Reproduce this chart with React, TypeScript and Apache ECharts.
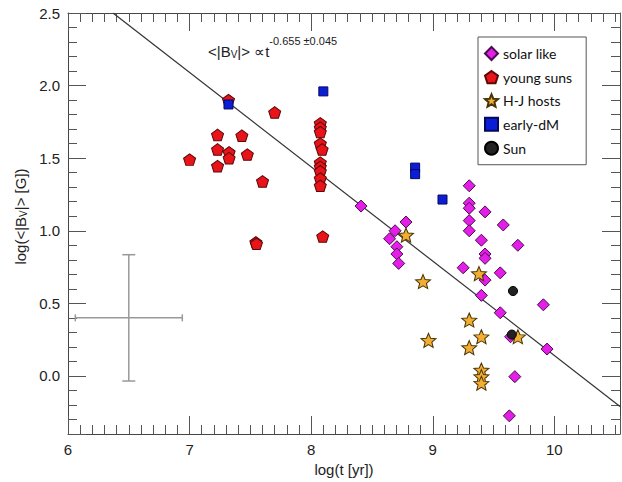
import React, { useEffect, useRef } from "react";
import * as echarts from "echarts";

// ---- data ----
const solarLikeX = [8.41, 8.78, 8.69, 8.645, 8.705, 8.705, 8.72, 9.30, 9.30, 9.30, 9.43, 9.30, 9.58, 9.30, 9.40, 9.70, 9.43, 9.43, 9.25, 9.555, 9.43, 9.40, 9.91, 9.555, 9.64, 9.94, 9.675, 9.63];
const solarLikeY = [1.17, 1.06, 1.00, 0.945, 0.89, 0.84, 0.775, 1.31, 1.19, 1.155, 1.13, 1.07, 1.04, 1.00, 0.935, 0.90, 0.84, 0.81, 0.745, 0.71, 0.66, 0.555, 0.49, 0.435, 0.27, 0.185, -0.005, -0.275];

const youngSunsX = [7.32, 7.70, 7.23, 7.43, 7.00, 7.23, 7.325, 7.325, 7.475, 7.23, 7.60, 7.545, 7.55, 8.075, 8.075, 8.075, 8.075, 8.09, 8.075, 8.075, 8.075, 8.075, 8.075, 8.095];
const youngSunsY = [1.90, 1.815, 1.66, 1.655, 1.49, 1.56, 1.54, 1.50, 1.525, 1.445, 1.34, 0.92, 0.91, 1.74, 1.71, 1.68, 1.60, 1.56, 1.47, 1.44, 1.41, 1.36, 1.31, 0.96];

const hjHostsX = [8.78, 8.92, 8.965, 9.30, 9.30, 9.38, 9.40, 9.40, 9.40, 9.40, 9.70];
const hjHostsY = [0.97, 0.65, 0.245, 0.385, 0.195, 0.705, 0.27, 0.04, -0.005, -0.05, 0.27];

const earlyDMX = [7.32, 8.10, 8.855, 8.855, 9.08];
const earlyDMY = [1.87, 1.96, 1.435, 1.39, 1.215];

const sunX = [9.66, 9.65];
const sunY = [0.585, 0.285];

// fit line end points
const fitX = [6.37, 10.54];
const fitY = [2.5, -0.21];

// typical error cross
const errCenterX = 6.5;
const errCenterY = 0.4;
const errHalfX = 0.44;
const errHalfY = 0.435;

const seriesNames = ["solar like", "young suns", "H-J hosts", "early-dM", "Sun"];
const xTickLabels = [6, 7, 8, 9, 10];

const zip = (xs: number[], ys: number[]) => xs.map((x, i) => [x, ys[i]]);

const PENTAGON = "path://M0 -1 L0.951 -0.309 L0.588 0.809 L-0.588 0.809 L-0.951 -0.309 Z";
const STAR =
  "path://M0 -1 L0.265 -0.364 L0.951 -0.309 L0.428 0.139 L0.588 0.809 L0 0.45 L-0.588 0.809 L-0.428 0.139 L-0.951 -0.309 L-0.265 -0.364 Z";

const FONT = "'Liberation Sans', Arial, Helvetica, sans-serif";

export default function App() {
  const ref = useRef<HTMLDivElement>(null);

  useEffect(() => {
    if (!ref.current) return;
    const chart = echarts.init(ref.current, undefined, { renderer: "svg" });

    const axisLine = { show: true, onZero: false, lineStyle: { color: "#444", width: 1 } };
    const tickStyle = { color: "#555", width: 1 };

    const xBase = {
      type: "value",
      min: 6,
      max: 10.54,
      interval: 1,
      axisLine,
      axisTick: { show: true, inside: true, length: 18, lineStyle: tickStyle },
      minorTick: { show: true, splitNumber: 10, length: 9, lineStyle: tickStyle },
      splitLine: { show: false },
    };
    const yBase = {
      type: "value",
      min: -0.4,
      max: 2.5,
      splitNumber: 5,
      axisLine,
      axisTick: { show: true, inside: true, length: 18, lineStyle: tickStyle },
      minorTick: { show: true, splitNumber: 5, length: 9, lineStyle: tickStyle },
      splitLine: { show: false },
    };

    const option: any = {
      animation: false,
      backgroundColor: "#fff",
      grid: { left: 68, top: 13, width: 552, height: 421, containLabel: false, outerBoundsMode: "none" },
      xAxis: [
        {
          ...xBase,
          position: "bottom",
          name: "log(t [yr])",
          nameLocation: "middle",
          nameGap: 26,
          nameTextStyle: { fontFamily: FONT, fontSize: 15, color: "#222" },
          axisLabel: {
            margin: 8,
            fontFamily: FONT,
            fontSize: 15,
            color: "#222",
            formatter: (v: number) => (xTickLabels.indexOf(v) >= 0 ? String(v) : ""),
          },
        },
        { ...xBase, position: "top", axisLabel: { show: false } },
      ],
      yAxis: [
        {
          ...yBase,
          position: "left",
          name: "log(<|B{s|V}|> [G])",
          nameLocation: "middle",
          nameGap: 37,
          nameTextStyle: {
            fontFamily: FONT,
            fontSize: 15,
            color: "#222",
            padding: [0, 0, 0, 14],
            rich: { s: { fontFamily: FONT, fontSize: 10, color: "#222", verticalAlign: "bottom", lineHeight: 10 } },
          },
          axisLabel: {
            margin: 8,
            fontFamily: FONT,
            fontSize: 15,
            color: "#222",
            formatter: (v: number) => (Math.abs(v * 2 - Math.round(v * 2)) < 1e-6 ? v.toFixed(1) : ""),
          },
        },
        { ...yBase, position: "right", axisLabel: { show: false } },
      ],
      legend: {
        orient: "vertical",
        left: 478,
        top: 37,
        itemWidth: 13,
        itemHeight: 13,
        itemGap: 9,
        padding: [9, 14, 9, 6],
        borderColor: "#555",
        borderWidth: 1,
        backgroundColor: "#fff",
        textStyle: { fontFamily: "Lato, 'Open Sans', sans-serif", fontSize: 14, color: "#111" },
        data: seriesNames,
      },
      graphic: [
        {
          type: "text",
          x: 208,
          y: 47,
          z: 10,
          style: {
            text: "{m|<|B}{s|V}{m||> ∝t}{p|-0.655 ±0.045}",
            verticalAlign: "middle",
            rich: {
              m: { fontFamily: FONT, fontSize: 15, fill: "#222", lineHeight: 24, verticalAlign: "bottom" },
              s: { fontFamily: FONT, fontSize: 10, fill: "#222", lineHeight: 10, verticalAlign: "bottom" },
              p: { fontFamily: FONT, fontSize: 11, fill: "#222", lineHeight: 11, verticalAlign: "top" },
            },
          },
        },
      ],
      series: [
        {
          type: "line",
          data: zip(fitX, fitY),
          symbol: "none",
          lineStyle: { color: "#333", width: 1.2 },
          silent: true,
          z: 1,
        },
        {
          type: "custom",
          silent: true,
          z: 1,
          renderItem: (_params: any, api: any) => {
            const x = api.value(0);
            const y = api.value(1);
            const dx = api.value(2);
            const dy = api.value(3);
            const l = api.coord([x - dx, y]);
            const r = api.coord([x + dx, y]);
            const t = api.coord([x, y + dy]);
            const b = api.coord([x, y - dy]);
            const st = { stroke: "#999", lineWidth: 1.5 };
            const hc = 3.5;
            const vc = 6.5;
            return {
              type: "group",
              children: [
                { type: "line", shape: { x1: l[0], y1: l[1], x2: r[0], y2: r[1] }, style: st },
                { type: "line", shape: { x1: t[0], y1: t[1], x2: b[0], y2: b[1] }, style: st },
                { type: "line", shape: { x1: l[0], y1: l[1] - hc, x2: l[0], y2: l[1] + hc }, style: st },
                { type: "line", shape: { x1: r[0], y1: r[1] - hc, x2: r[0], y2: r[1] + hc }, style: st },
                { type: "line", shape: { x1: t[0] - vc, y1: t[1], x2: t[0] + vc, y2: t[1] }, style: st },
                { type: "line", shape: { x1: b[0] - vc, y1: b[1], x2: b[0] + vc, y2: b[1] }, style: st },
              ],
            };
          },
          data: [[errCenterX, errCenterY, errHalfX, errHalfY]],
        },
        {
          name: "solar like",
          type: "scatter",
          symbol: "diamond",
          symbolSize: 12,
          itemStyle: { color: "#e31ee6", borderColor: "#4a0a50", borderWidth: 1, opacity: 1 },
          data: zip(solarLikeX, solarLikeY),
          z: 3,
        },
        {
          name: "young suns",
          type: "scatter",
          symbol: PENTAGON,
          symbolSize: [12, 11.5],
          itemStyle: { color: "#e8141a", borderColor: "#5a0808", borderWidth: 1, opacity: 1 },
          data: zip(youngSunsX, youngSunsY),
          z: 4,
        },
        {
          name: "H-J hosts",
          type: "scatter",
          symbol: STAR,
          symbolSize: [15, 14],
          itemStyle: { color: "#f2ae32", borderColor: "#4a3408", borderWidth: 1, opacity: 1 },
          data: zip(hjHostsX, hjHostsY),
          z: 5,
        },
        {
          name: "early-dM",
          type: "scatter",
          symbol: "rect",
          symbolSize: 9,
          itemStyle: { color: "#0a1ed8", borderColor: "#08085a", borderWidth: 1, opacity: 1 },
          data: zip(earlyDMX, earlyDMY),
          z: 6,
        },
        {
          name: "Sun",
          type: "scatter",
          symbol: "circle",
          symbolSize: 9,
          itemStyle: { color: "#222", borderColor: "#000", borderWidth: 1, opacity: 1 },
          data: zip(sunX, sunY),
          z: 7,
        },
      ],
    };

    chart.setOption(option);
    return () => chart.dispose();
  }, []);

  return (
    <div
      ref={ref}
      style={{ position: "fixed", left: 0, top: 0, width: 622, height: 482, background: "#fff" }}
    />
  );
}
